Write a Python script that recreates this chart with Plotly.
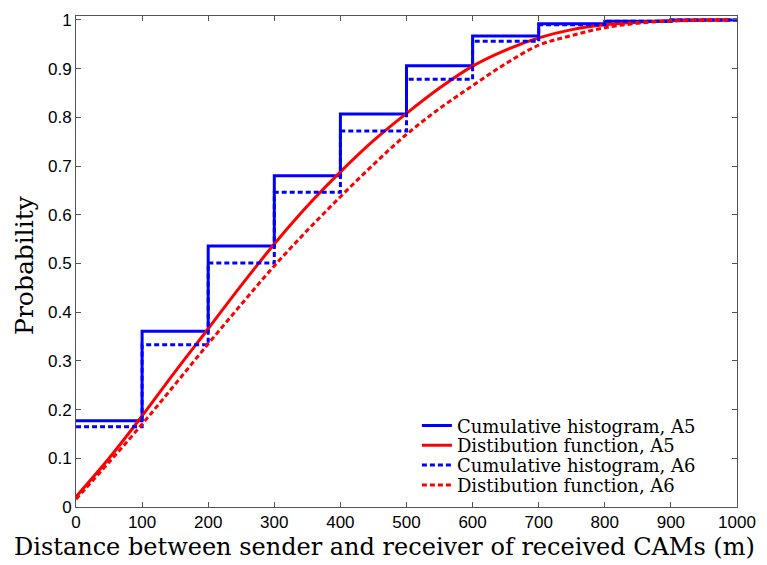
import plotly.graph_objects as go

# Cumulative histogram bin edges (m)
bin_edges = [0, 100, 200, 300, 400, 500, 600, 700, 800, 900, 1000]
# Cumulative histogram values (value on each bin, last repeated for the end)
hist_a5 = [0.177, 0.361, 0.536, 0.680, 0.807, 0.906, 0.967, 0.992, 0.997, 1.0, 1.0]
hist_a6 = [0.165, 0.333, 0.501, 0.646, 0.772, 0.878, 0.956, 0.990, 0.997, 1.0, 1.0]

# Distribution function samples
dist_x = [0, 50, 100, 150, 200, 250, 300, 350, 400, 450, 500, 550, 600, 650, 700, 750, 800, 850, 900, 950, 990]
dist_a5 = [0.021, 0.100, 0.187, 0.278, 0.366, 0.455, 0.540, 0.618, 0.688, 0.752, 0.808, 0.860, 0.905, 0.938,
           0.963, 0.980, 0.990, 0.995, 0.998, 0.9995, 1.0]
dist_a6 = [0.016, 0.092, 0.170, 0.252, 0.335, 0.416, 0.495, 0.568, 0.637, 0.703, 0.765, 0.818, 0.865, 0.910,
           0.948, 0.968, 0.984, 0.993, 0.998, 1.0, 1.0]

names = ["Cumulative histogram, A5", "Distibution function, A5",
         "Cumulative histogram, A6", "Distibution function, A6"]

x_title = "Distance between sender and receiver of received CAMs (m)"
y_title = "Probability"

BLUE = "#0000ff"
RED = "#ff0000"
LW = 3
DASH = "5px,3px"

fig = go.Figure()
fig.add_trace(go.Scatter(x=bin_edges, y=hist_a5, mode="lines", name=names[0], legend="legend",
                         line=dict(color=BLUE, width=LW, shape="hv")))
fig.add_trace(go.Scatter(x=dist_x, y=dist_a5, mode="lines", name=names[1], legend="legend2",
                         line=dict(color=RED, width=LW, shape="spline")))
fig.add_trace(go.Scatter(x=bin_edges, y=hist_a6, mode="lines", name=names[2], legend="legend3",
                         line=dict(color=BLUE, width=LW, shape="hv", dash=DASH)))
fig.add_trace(go.Scatter(x=dist_x, y=dist_a6, mode="lines", name=names[3], legend="legend4",
                         line=dict(color=RED, width=LW, shape="spline", dash=DASH)))

axis_common = dict(
    showline=True, linecolor="#555555", linewidth=1, mirror="ticks",
    ticks="inside", ticklen=5, tickcolor="#555555",
    showgrid=False, zeroline=False,
    tickfont=dict(family="Liberation Sans, Arial, sans-serif", size=17, color="#000000"),
)

legend_font = dict(family="DejaVu Serif, serif", size=18, color="#000000")

W, H = 767, 565
PLOT_L, PLOT_R, PLOT_TOP, PLOT_BOTTOM = 76, 743, 11, 507
PLOT_W = PLOT_R - PLOT_L
PLOT_H = PLOT_BOTTOM - PLOT_TOP
legend_rows_px = [425, 445, 465, 485]
legend_x = (420 - PLOT_L) / PLOT_W


def leg(row_px):
    return dict(x=legend_x, y=(PLOT_BOTTOM - row_px) / PLOT_H, xanchor="left", yanchor="middle",
                bgcolor="rgba(255,255,255,0)", borderwidth=0, font=legend_font,
                itemwidth=30, tracegroupgap=0)


fig.update_layout(
    width=W, height=H,
    margin=dict(l=PLOT_L, r=W - PLOT_R, t=PLOT_TOP, b=H - PLOT_BOTTOM),
    paper_bgcolor="white", plot_bgcolor="white",
    xaxis=dict(range=[0, 1000], tickvals=[0, 100, 200, 300, 400, 500, 600, 700, 800, 900, 1000],
               **axis_common),
    yaxis=dict(range=[0, 1.008], tickvals=[0, 0.1, 0.2, 0.3, 0.4, 0.5, 0.6, 0.7, 0.8, 0.9, 1],
               ticktext=["0", "0.1", "0.2", "0.3", "0.4", "0.5", "0.6", "0.7", "0.8", "0.9", "1"],
               **axis_common),
    legend=leg(legend_rows_px[0]),
    legend2=leg(legend_rows_px[1]),
    legend3=leg(legend_rows_px[2]),
    legend4=leg(legend_rows_px[3]),
    showlegend=True,
    annotations=[
        dict(text=x_title, xref="paper", yref="paper",
             x=(387 - PLOT_L) / PLOT_W, y=(PLOT_BOTTOM - 547) / PLOT_H,
             xanchor="center", yanchor="middle", showarrow=False,
             font=dict(family="DejaVu Serif, serif", size=24, color="#000000")),
        dict(text=y_title, xref="paper", yref="paper", textangle=-90,
             x=(24 - PLOT_L) / PLOT_W, y=(PLOT_BOTTOM - 262) / PLOT_H,
             xanchor="center", yanchor="middle", showarrow=False,
             font=dict(family="DejaVu Serif, serif", size=25, color="#000000")),
    ],
)

fig.write_html("out.html")
